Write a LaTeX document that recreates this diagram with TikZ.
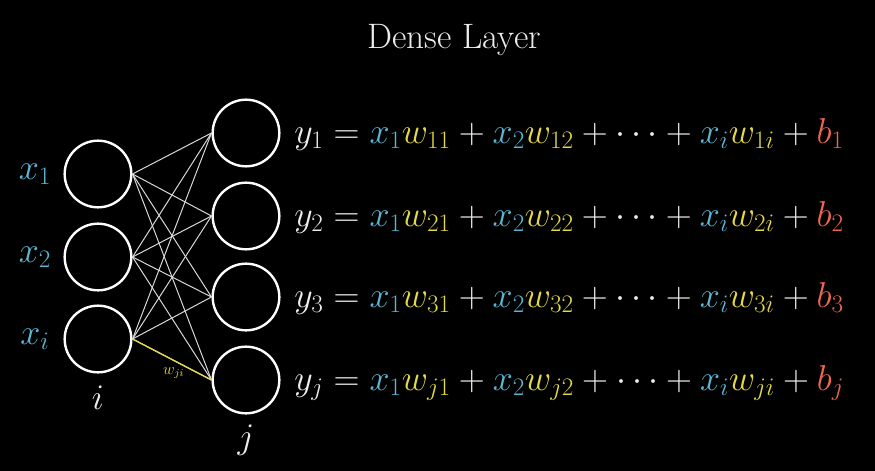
\RequirePackage{fix-cm}
\documentclass[tikz,border=0pt]{standalone}
\usepackage{xcolor}
\definecolor{xblue}{HTML}{5AB8D4}
\definecolor{wyel}{HTML}{E4DA48}
\definecolor{bred}{HTML}{EE6652}
\definecolor{txt}{HTML}{ECECEC}
\definecolor{edge}{HTML}{D8D8D8}
\newcommand\myx[1]{{\color{xblue}x_{#1}}}
\newcommand\myw[1]{{\color{wyel}w_{#1}}}
\newcommand\myb[1]{{\color{bred}b_{#1}}}
\newcommand\eqsize{\fontsize{27}{32}\selectfont}
\begin{document}
\begin{tikzpicture}[x=0.75pt,y=-0.75pt,
  neuron/.style={circle,draw=white,line width=1.8pt,minimum size=50pt,inner sep=0pt},
  conn/.style={draw=edge,line width=0.75pt},
  wconn/.style={draw=wyel,line width=1pt},
  lab/.style={text=txt,font=\eqsize,inner sep=0pt},
  eqn/.style={text=txt,font=\eqsize,inner sep=0pt,anchor=base west}]
\fill[black] (0,0) rectangle (875,471);
\useasboundingbox (0,0) rectangle (875,471);
\node[text=txt,font=\fontsize{26.5}{31}\selectfont,inner sep=0pt] (title) at (454,40) {Dense Layer};
% input layer
\node[neuron] (in1) at (98,174) {};
\node[neuron] (in2) at (98,257) {};
\node[neuron] (in3) at (98,339) {};
% output layer
\node[neuron] (out1) at (246,133) {};
\node[neuron] (out2) at (246,216) {};
\node[neuron] (out3) at (246,297) {};
\node[neuron] (out4) at (246,380) {};
% connections
\foreach \a in {1,2,3}{
  \foreach \b in {1,2,3,4}{
    \draw[conn] (in\a.east) -- (out\b.west);
  }
}
\draw[wconn] (in3.east) -- node[pos=0.52,below=5pt,inner sep=0pt,text=wyel,font=\fontsize{12}{14}\selectfont] (wlab) {$w_{ji}$} (out4.west);
% input labels
\node[lab] (lx1) at (35,174) {$\myx{1}$};
\node[lab] (lx2) at (35,257) {$\myx{2}$};
\node[lab] (lxi) at (35,339) {$\myx{i}$};
\node[lab] (li) at (98,398) {$i$};
\node[lab] (lj) at (246,440) {$j$};
% equations
\node[eqn] (e1) at (294,143) {$y_1 = \myx{1}\myw{11} + \myx{2}\myw{12} + \cdots + \myx{i}\myw{1i} + \myb{1}$};
\node[eqn] (e2) at (294,226) {$y_2 = \myx{1}\myw{21} + \myx{2}\myw{22} + \cdots + \myx{i}\myw{2i} + \myb{2}$};
\node[eqn] (e3) at (294,307) {$y_3 = \myx{1}\myw{31} + \myx{2}\myw{32} + \cdots + \myx{i}\myw{3i} + \myb{3}$};
\node[eqn] (e4) at (294,390) {$y_j = \myx{1}\myw{j1} + \myx{2}\myw{j2} + \cdots + \myx{i}\myw{ji} + \myb{j}$};
\end{tikzpicture}
\end{document}
